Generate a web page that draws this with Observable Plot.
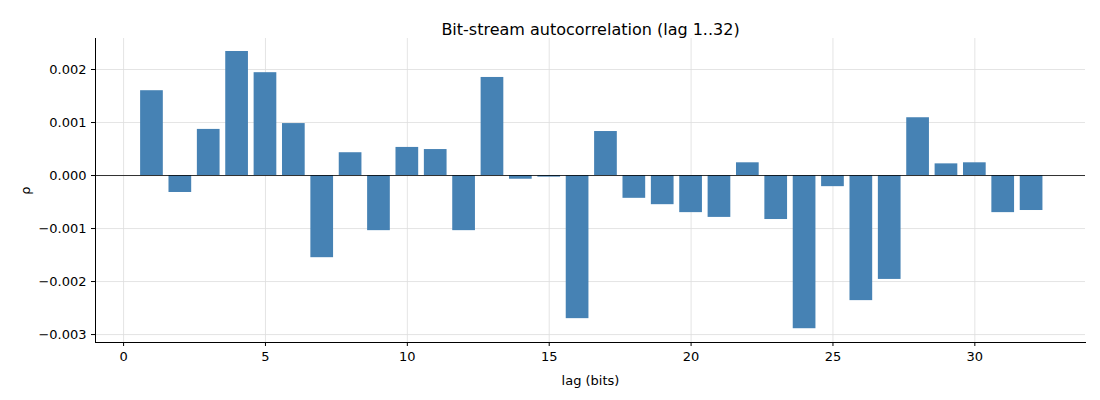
<!DOCTYPE html>
<html><head><meta charset="utf-8">
<script src="https://cdn.jsdelivr.net/npm/d3@7"></script>
<script src="https://cdn.jsdelivr.net/npm/@observablehq/plot@0.6"></script>
<style>body{margin:0;background:#fff;font-family:"DejaVu Sans",sans-serif;}</style>
</head><body><div id="c"></div>
<script>
const lags = d3.range(1, 33);
const rho = [1.60,-0.32,0.87,2.34,1.94,0.98,-1.55,0.43,-1.04,0.53,0.49,-1.04,1.85,-0.07,-0.03,-2.70,0.83,-0.43,-0.55,-0.70,-0.79,0.24,-0.83,-2.89,-0.21,-2.36,-1.96,1.09,0.22,0.24,-0.70,-0.66].map(v=>v/1000);
const xTicks = [0,5,10,15,20,25,30];
const yTicks = [-0.003,-0.002,-0.001,0,0.001,0.002];
const data = lags.map((l,i)=>({lag:l, rho:rho[i]}));
const chart = Plot.plot({
  width:1100, height:400, marginTop:38, marginBottom:58, marginLeft:95, marginRight:15,
  style:{fontFamily:"DejaVu Sans, sans-serif", fontSize:"13px", color:"#000"},
  x:{domain:[-0.99,33.9], ticks:xTicks, tickFormat:d3.format("d"), label:"lag (bits)", labelAnchor:"center", labelOffset:42, tickSize:4},
  y:{domain:[-0.00315,0.002585], ticks:yTicks, tickFormat:d3.format(".3f"), label:"ρ", labelAnchor:"center", labelOffset:75, tickSize:4},
  marks:[
    Plot.gridX(xTicks,{stroke:"#ddd", strokeOpacity:1, strokeWidth:0.8}),
    Plot.gridY(yTicks,{stroke:"#ddd", strokeOpacity:1, strokeWidth:0.8}),
    Plot.rectY(data,{x1:d=>d.lag-0.4, x2:d=>d.lag+0.4, y1:0, y2:"rho", fill:"#4682b4"}),
    Plot.ruleY([0],{stroke:"#000", strokeWidth:0.8}),
    Plot.axisX({ticks:xTicks, tickFormat:d3.format("d"), label:"lag (bits)", labelAnchor:"center", labelArrow:"none", labelOffset:42, tickSize:4, fontSize:13}),
    Plot.axisY({ticks:yTicks, tickFormat:d3.format(".3f"), label:"ρ", labelAnchor:"center", labelArrow:"none", labelOffset:75, tickSize:4, fontSize:13}),
    Plot.frame({anchor:"left", stroke:"#000"}),
    Plot.frame({anchor:"bottom", stroke:"#000"}),
    Plot.text(["Bit-stream autocorrelation (lag 1..32)"],{frameAnchor:"top", dy:-15, fontSize:16})
  ]
});
document.getElementById("c").appendChild(chart);
</script></body></html>
